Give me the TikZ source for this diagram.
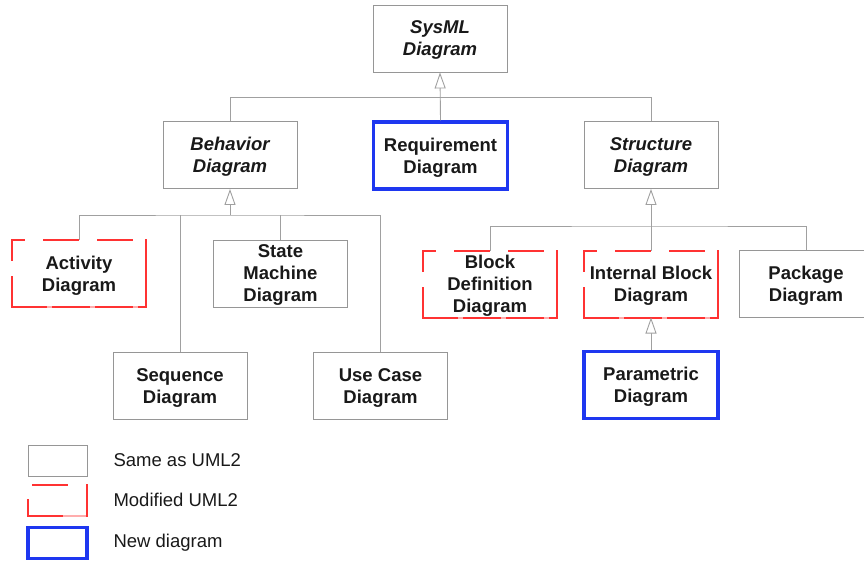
\documentclass[tikz,border=0pt]{standalone}
\usepackage{fontspec}
\setmainfont{Liberation Sans}
\usetikzlibrary{arrows.meta,calc}
\definecolor{boxgray}{RGB}{150,150,150}
\definecolor{linegray}{RGB}{160,160,160}
\definecolor{modred}{RGB}{255,50,50}
\definecolor{newblue}{RGB}{30,55,240}
\definecolor{txt}{RGB}{25,25,25}
\tikzset{
  diag/.style={rectangle, minimum width=134pt, minimum height=67pt, inner sep=0pt,
    text depth=0pt, align=center, text=txt, font=\fontsize{18.5}{22}\selectfont\bfseries},
  same/.style={diag, draw=boxgray, line width=0.9pt},
  modified/.style={diag, outer sep=0pt},
  newdiag/.style={diag, draw=newblue, line width=3.2pt},
  abstract/.style={font=\fontsize{18.5}{22}\selectfont\bfseries\itshape},
  modline/.style={draw=modred, line width=2pt, line cap=rect},
  conn/.style={draw=linegray, line width=0.9pt},
  gen/.style={conn, -{Triangle[open, length=16pt, width=11pt, fill=white, line width=0.9pt]}},
  legtext/.style={anchor=west, text=txt, font=\fontsize{18.5}{22}\selectfont},
  legbox/.style={rectangle, minimum width=59pt, minimum height=31pt, inner sep=0pt, outer sep=0pt}
}
% dashed red frame of a "modified" diagram box: dashed top and left edges,
% solid right edge, almost solid bottom edge
\newcommand\modframe[1]{%
  \draw[modline, dash pattern=on 34pt off 20pt, dash phase=22pt] (#1.north west) -- (#1.north east);
  \draw[modline] (#1.north east) -- (#1.south east);
  \draw[modline, opacity=0.4] (#1.south east) -- (#1.south west);
  \draw[modline, dash pattern=on 36pt off 7pt, dash phase=2pt] (#1.south west) -- (#1.south east);
  \draw[modline, dash pattern=on 30pt off 17pt, dash phase=10pt] (#1.north west) -- (#1.south west);}
\begin{document}
\begin{tikzpicture}[x=1pt, y=-1pt]
\useasboundingbox (0,0) rectangle (864,560);
\clip (0,0) rectangle (864,560);

% top level
\node[same, abstract] (sys) at (440,38.5) {SysML\\Diagram};

% second level
\node[same, abstract] (beh) at (230,155) {Behavior\\Diagram};
\node[newdiag] (req) at (440.5,155.5) {Requirement\\Diagram};
\node[same, abstract] (str) at (651,155) {Structure\\Diagram};

% behaviour diagrams
\node[modified] (act) at (79,273.5) {Activity\\Diagram};
\node[same] (stm) at (280.5,273.5) {State\\Machine\\Diagram};
\node[same] (seq) at (180,386) {Sequence\\Diagram};
\node[same] (uc) at (380.5,386) {Use Case\\Diagram};

% structure diagrams
\node[modified] (bdd) at (490,284) {Block\\Definition\\Diagram};
\node[modified] (ibd) at (651,284) {Internal Block\\Diagram};
\node[same] (pkg) at (806,284) {Package\\Diagram};
\node[newdiag] (par) at (651,385) {Parametric\\Diagram};

\modframe{act}
\modframe{bdd}
\modframe{ibd}

% junction points of the generalisation trees
\coordinate (j1) at (440,97.5);
\coordinate (j2) at (230,215);
\coordinate (j3) at (651,226);

% SysML tree
\draw[conn] (beh.north) |- (j1) -| (str.north);
\draw[gen] (req.north) -- (sys.south);

% behaviour tree
\draw[conn] (act.north) |- (j2) -| (uc.north);
\draw[conn] (stm.north) -- (stm.north |- j2);
\draw[conn] (seq.north) -- (seq.north |- j2);
\draw[gen] (j2) -- (beh.south);

% structure tree
\draw[conn] (bdd.north) |- (j3) -| (pkg.north);
\draw[gen] (ibd.north) -- (str.south);
\draw[gen] (par.north) -- (ibd.south);

% legend
\node[legbox, draw=boxgray, line width=0.9pt] (l1) at (57.5,460.5) {};
\node[legbox] (l2) at (57.5,500.5) {};
\draw[modline] (l2.north west) ++(5,0) -- ++(34,0);
\draw[modline] (l2.north east) -- (l2.south east);
\draw[modline, opacity=0.4] (l2.south east) -- (l2.south west);
\draw[modline] (l2.south west) -- ++(34,0);
\draw[modline] (l2.south west) -- ++(0,-16);
\node[legbox, draw=newblue, line width=3.2pt] (l3) at (57.5,543) {};
\node[legtext] (t1) at (110,460) {Same as UML2};
\node[legtext] (t2) at (110,500) {Modified UML2};
\node[legtext] (t3) at (110,543) {New diagram};
\end{tikzpicture}
\end{document}
